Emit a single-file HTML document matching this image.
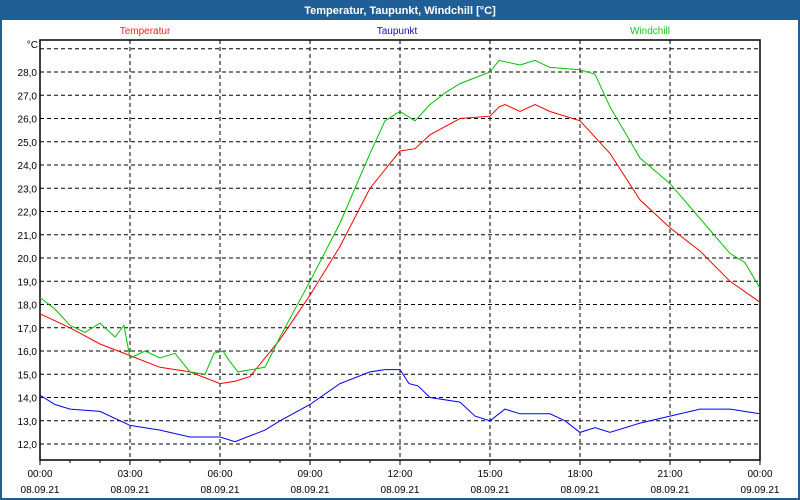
<!DOCTYPE html>
<html><head><meta charset="utf-8"><style>
html,body{margin:0;padding:0;background:#fff}
svg{display:block}
text{font-family:"Liberation Sans",sans-serif;font-size:10px}
</style></head><body>
<svg id="s" width="800" height="500" xmlns="http://www.w3.org/2000/svg">
<rect x="0" y="0" width="800" height="500" fill="#1f5f96"/>
<rect x="2" y="20" width="796" height="478" fill="#fff"/>
<text x="400" y="14" fill="#fff" text-anchor="middle" style="font-weight:bold;font-size:11px">Temperatur, Taupunkt, Windchill [°C]</text>
<text x="145" y="34" fill="#ff2020" text-anchor="middle">Temperatur</text>
<text x="397" y="34" fill="#1010c0" text-anchor="middle">Taupunkt</text>
<text x="650" y="34" fill="#20c020" text-anchor="middle">Windchill</text>
<text x="38" y="48" text-anchor="end" fill="#000">°C</text>
<g id="g"></g>
</svg>
<script>
var g=document.getElementById('g'),h='';
function X(t){return 40+30*t}function Y(v){return 444-(v-12)*23.25}
for(var v=12;v<=29;v++){var y=Y(v);h+='<line x1="40" x2="760" y1="'+y+'" y2="'+y+'" stroke="#000" stroke-dasharray="4,3"/>';
if(v<=28)h+='<text x="37" y="'+(y+4)+'" text-anchor="end">'+v+',0</text>';}
for(var t=3;t<24;t+=3){var x=X(t);h+='<line x1="'+x+'" x2="'+x+'" y1="40" y2="460" stroke="#000" stroke-dasharray="4,3"/>';}
for(var t=0;t<=24;t++){var x=X(t);h+='<line x1="'+x+'" x2="'+x+'" y1="460" y2="'+(t%3?463:465)+'" stroke="#000"/>';
if(t%3==0){var l=(t==24?'00':(t<10?'0'+t:t))+':00';h+='<text x="'+x+'" y="477" text-anchor="middle">'+l+'</text><text x="'+x+'" y="493" text-anchor="middle">'+(t==24?'09.09.21':'08.09.21')+'</text>';}}
h+='<rect x="40" y="40" width="720" height="420" fill="none" stroke="#000" stroke-width="1.5"/>';
function P(d,c){var p=[];for(var i=0;i<d.length;i+=2)p.push(X(d[i]).toFixed(1)+','+Y(d[i+1]).toFixed(1));return '<polyline fill="none" stroke="'+c+'" points="'+p.join(' ')+'"/>';}
var T=[0,17.6,1,17.0,2,16.3,3,15.8,4,15.3,5,15.1,6,14.6,6.5,14.7,7,14.9,8,16.5,9,18.4,10,20.5,11,23.0,12,24.6,12.5,24.7,13,25.3,14,26.0,15,26.1,15.3,26.5,15.5,26.6,16,26.3,16.5,26.6,17,26.3,18,25.9,19,24.5,20,22.5,21,21.3,22,20.3,23,19.0,24,18.1];
var W=[0,18.3,0.5,17.8,1,17.1,1.5,16.8,2,17.2,2.5,16.6,2.8,17.1,3,15.7,3.5,16.0,4,15.7,4.5,15.9,5,15.1,5.5,15.0,5.8,15.9,6.1,16.0,6.3,15.6,6.6,15.1,7.5,15.3,8,16.6,9,19.0,10,21.5,11,24.5,11.5,25.9,12,26.3,12.5,25.9,13,26.6,13.5,27.1,14,27.5,15,28.0,15.3,28.5,16,28.3,16.5,28.5,17,28.2,18,28.1,18.5,27.9,19,26.5,20,24.3,21,23.2,22,21.7,23,20.2,23.5,19.8,24,18.7];
var D=[0,14.1,0.5,13.7,1,13.5,2,13.4,3,12.8,4,12.6,5,12.3,6,12.3,6.5,12.1,7.5,12.6,8,13.0,9,13.7,10,14.6,11,15.1,11.5,15.2,12,15.2,12.3,14.6,12.6,14.5,13,14.0,14,13.8,14.5,13.2,15,13.0,15.5,13.5,16,13.3,17,13.3,17.5,13.0,18,12.5,18.5,12.7,19,12.5,20,12.9,21,13.2,22,13.5,23,13.5,24,13.3];
h+=P(D,'#0000ff')+P(T,'#ff0000')+P(W,'#00c000');
g.innerHTML=h;
</script>
</body></html>
